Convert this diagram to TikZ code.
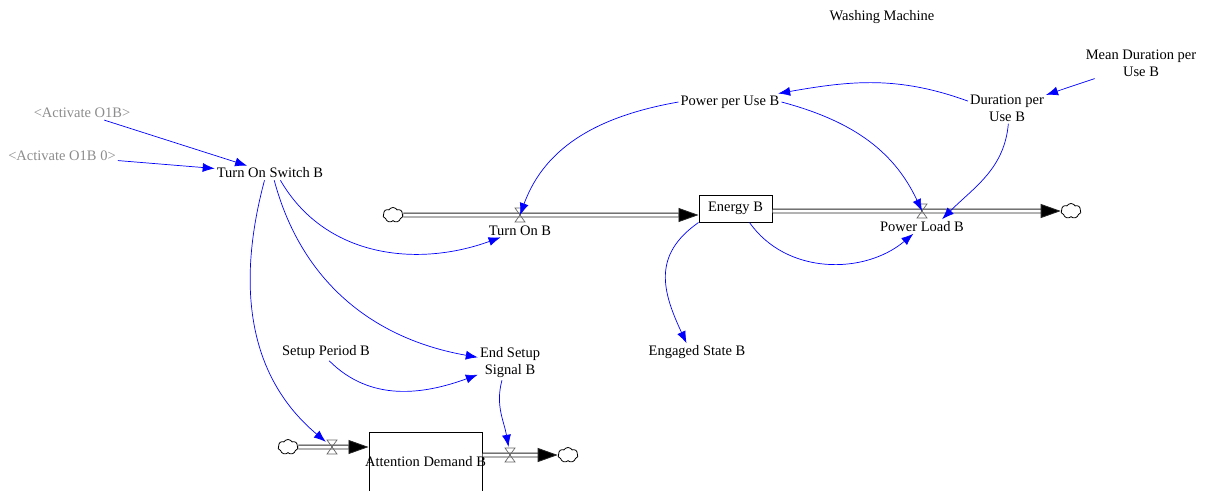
\documentclass[tikz,border=0pt]{standalone}
\usepackage{fontspec}
\setmainfont{Liberation Serif}
\usetikzlibrary{arrows.meta, shapes.symbols, positioning}

\begin{document}
\begin{tikzpicture}[x=1pt, y=-1pt, font=\fontsize{14.5}{17}\selectfont,
  var/.style={align=center, inner sep=2pt},
  shadow/.style={var, text=black!45},
  stock/.style={draw, line width=1pt, inner sep=0pt},
  sink/.style={cloud, cloud puffs=7, cloud puff arc=120, draw, line width=0.8pt,
    minimum width=20pt, minimum height=15pt, inner sep=0pt},
  valve/.style={minimum width=12pt, minimum height=16pt, inner sep=0pt,
    path picture={\draw[black!60, line width=0.7pt]
      ([shift={(1,1)}]path picture bounding box.north west) --
      ([shift={(-1,1)}]path picture bounding box.north east) --
      ([shift={(1,-1)}]path picture bounding box.south west) --
      ([shift={(-1,-1)}]path picture bounding box.south east) -- cycle;}},
  pipe/.style={draw=black!85, line width=0.8pt, double=white, double distance=3pt,
    -{Triangle[length=20pt,width=14pt,fill=black]}},
  link/.style={blue, line width=0.7pt, -{Latex[length=12pt,width=9pt]}}]

\useasboundingbox (0,0) rectangle (1206,490);

\node (title) at (882,17) {Washing Machine};

\node [shadow] (act)  at (82,113)  {<Activate O1B>};
\node [shadow] (act0) at (62,156)  {<Activate O1B 0>};
\node [var]    (tos)  at (270,173) {Turn On Switch B};
\node [var]    (ppu)  at (730,102) {Power per Use B};
\node [var]    (dpu)  at (1007,108) {Duration per\\Use B};
\node [var]    (mdu)  at (1141,63) {Mean Duration per\\Use B};

\node [sink] (c1) at (393,215) {};
\node [stock, minimum width=73pt, minimum height=27pt] (en) at (735.5,208.5) {Energy B};
\node [sink] (c2) at (1071,211) {};
\node [stock, minimum width=113pt, minimum height=60pt,
       label=center:Attention Demand B] (adb) at (425.5,462) {};
\node [sink] (c3) at (288,447) {};
\node [sink] (c4) at (568,455) {};

\draw [pipe] (c1) -- (en.west |- c1);
\draw [pipe] (en.east |- c2) -- (c2);
\draw [pipe] (c3) -- (adb.west |- c3);
\draw [pipe] (adb.east |- c4) -- (c4);

\node [valve] (v1) at (520,215) {};
\node [valve] (v2) at (922,211) {};
\node [valve] (v3) at (332,447) {};
\node [valve] (v4) at (510,455) {};

\node [var, below=0pt of v1] (ton) {Turn On B};
\node [var, below=0pt of v2] (pl)  {Power Load B};
\node [var] (eng) at (697,352) {Engaged State B};
\node [var] (spb) at (326,352) {Setup Period B};
\node [var] (ess) at (510,363) {End Setup\\Signal B};

\path [link]
  (act)      edge                     (tos)
  (act0)     edge                     (tos)
  (tos.-35)  edge [out=-60, in=200]   (ton)
  (tos.-60)  edge [out=-75, in=170]   (ess)
  (tos.-127) edge [out=-105, in=140]  (v3)
  (spb.-70)  edge [out=-45, in=200]   (ess)
  (ess.-115) edge [out=-105, in=100]  (v4)
  (ppu.west) edge [out=190, in=70]    (v1.center)
  (ppu.east) edge [out=-15, in=115]   (v2.center)
  (dpu.170)  edge [out=160, in=10]    (ppu)
  (mdu)      edge                     (dpu)
  (dpu.-85)  edge [out=-95, in=45]    (pl.20)
  (en.-45)   edge [out=-55, in=220]   (pl)
  (en.south west) edge [out=-145, in=115, looseness=1.2] (eng.140);

\end{tikzpicture}
\end{document}
